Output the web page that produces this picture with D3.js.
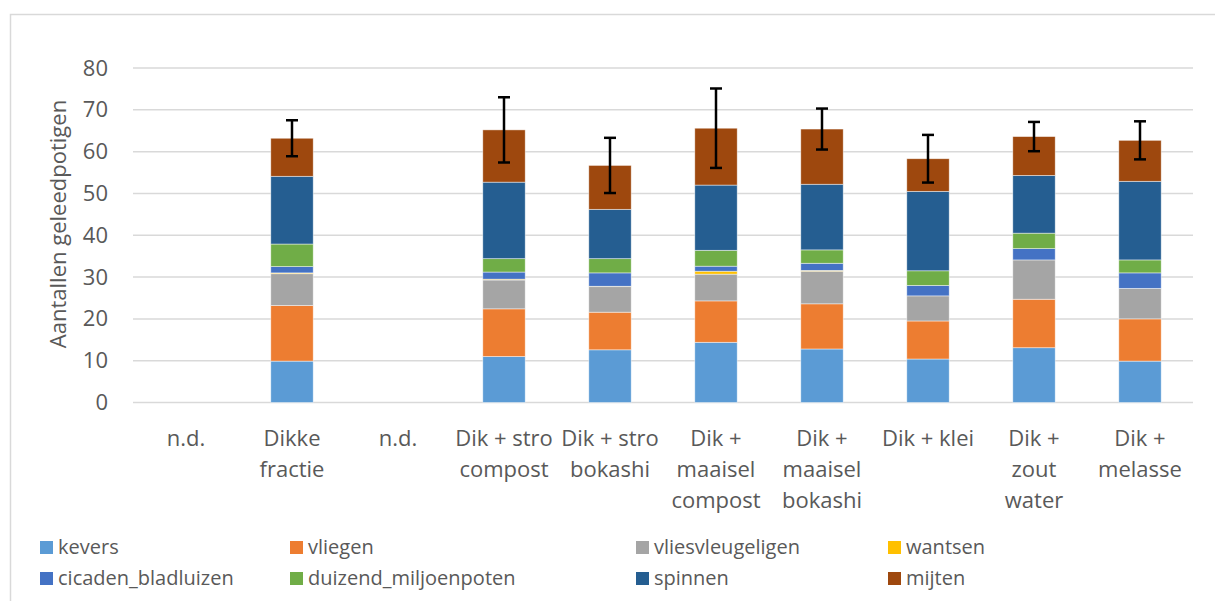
<!DOCTYPE html>
<html>
<head>
<meta charset="utf-8">
<script src="https://cdn.jsdelivr.net/npm/d3@7"></script>
<style>
  body { margin: 0; background: #fff; }
  text { font-family: "Open Sans", "Noto Sans", sans-serif; fill: #595959; }
</style>
</head>
<body>
<script>
// categories, multi-line labels split on |
const categories = ["n.d.", "Dikke|fractie", "n.d.|", "Dik + stro|compost", "Dik + stro|bokashi",
  "Dik +|maaisel|compost", "Dik +|maaisel|bokashi", "Dik + klei", "Dik +|zout|water", "Dik +|melasse"];

const seriesNames = ["kevers", "vliegen", "vliesvleugeligen", "wantsen",
  "cicaden_bladluizen", "duizend_miljoenpoten", "spinnen", "mijten"];
const colors = ["#5b9bd5", "#ed7d31", "#a5a5a5", "#ffc000", "#4472c4", "#70ad47", "#255e91", "#9e480e"];

// values per series (null = n.d.)
const kevers        = [null, 9.9, null, 11.0, 12.6, 14.4, 12.8, 10.4, 13.1, 9.9];
const vliegen       = [null, 13.3, null, 11.4, 9.0, 9.9, 10.8, 9.1, 11.6, 10.1];
const vliesvleug    = [null, 7.6, null, 6.9, 6.1, 6.4, 7.8, 6.0, 9.4, 7.3];
const wantsen       = [null, 0.2, null, 0.2, 0.1, 0.7, 0.2, 0.0, 0.0, 0.0];
const cicaden       = [null, 1.5, null, 1.7, 3.2, 1.2, 1.7, 2.5, 2.7, 3.7];
const duizend       = [null, 5.4, null, 3.2, 3.4, 3.8, 3.2, 3.5, 3.7, 3.1];
const spinnen       = [null, 16.2, null, 18.3, 11.8, 15.6, 15.7, 19.0, 13.8, 18.8];
const mijten        = [null, 9.1, null, 12.5, 10.5, 13.6, 13.2, 7.8, 9.3, 9.8];
const errors        = [null, 4.3, null, 7.8, 6.6, 9.5, 4.9, 5.7, 3.5, 4.55];

const yTicks = [0, 10, 20, 30, 40, 50, 60, 70, 80];

const seriesValues = [kevers, vliegen, vliesvleug, wantsen, cicaden, duizend, spinnen, mijten];

const W = 1215, H = 601;
const margin = {left: 133, right: 22, top: 68, bottom: 198};

const table = categories.map((c, i) => {
  const row = {cat: i};
  seriesNames.forEach((s, j) => row[s] = seriesValues[j][i] || 0);
  row.err = errors[i];
  row.nd = kevers[i] === null;
  return row;
});

const svg = d3.select("body").append("svg").attr("width", W).attr("height", H);

// chart frame
svg.append("rect").attr("x", 10.5).attr("y", 14.5).attr("width", W + 10).attr("height", H)
  .attr("fill", "none").attr("stroke", "#d9d9d9").attr("stroke-width", 1.5);

const x = d3.scaleBand().domain(d3.range(categories.length))
  .range([margin.left, W - margin.right]).paddingInner(0.6).paddingOuter(0.3);
const y = d3.scaleLinear().domain([0, 80]).range([H - margin.bottom - 0.5, margin.top]);

// gridlines
svg.append("g").selectAll("line").data(yTicks).join("line")
  .attr("x1", margin.left).attr("x2", W - margin.right)
  .attr("y1", d => y(d)).attr("y2", d => y(d))
  .attr("stroke", "#d9d9d9").attr("stroke-width", 1.5);

// y axis labels
const yAxis = svg.append("g").attr("transform", `translate(${margin.left - 25},0)`)
  .call(d3.axisLeft(y).tickValues(yTicks).tickSize(0).tickPadding(0));
yAxis.select(".domain").remove();
yAxis.selectAll("text").attr("font-size", 22).attr("fill", "#595959")
  .style("font-family", '"Open Sans", sans-serif');

svg.append("text").attr("transform", `translate(66,224) rotate(-90)`)
  .attr("text-anchor", "middle").attr("font-size", 22).text("Aantallen geleedpotigen");

// stacked bars
const stack = d3.stack().keys(seriesNames);
const stacked = stack(table);

svg.append("g").selectAll("g").data(stacked).join("g")
  .attr("fill", (d, i) => colors[i])
  .selectAll("rect").data(d => d.filter(p => !p.data.nd)).join("rect")
  .attr("x", d => x(d.data.cat))
  .attr("width", x.bandwidth())
  .attr("y", d => y(d[1]))
  .attr("height", d => Math.max(0, y(d[0]) - y(d[1])))
  .attr("stroke", "#fff").attr("stroke-opacity", 0.6).attr("stroke-width", 0.75);

// error bars
const totals = table.map(r => d3.sum(seriesNames, s => r[s]));
const eb = svg.append("g").attr("stroke", "#000").attr("stroke-width", 2.5);
table.filter(r => !r.nd).forEach(r => {
  const cx = x(r.cat) + x.bandwidth() / 2;
  const t = totals[r.cat];
  eb.append("line").attr("x1", cx).attr("x2", cx).attr("y1", y(t + r.err)).attr("y2", y(t - r.err));
  [t + r.err, t - r.err].forEach(v => {
    eb.append("line").attr("x1", cx - 6).attr("x2", cx + 6).attr("y1", y(v)).attr("y2", y(v));
  });
});

// category labels
const lab = svg.append("g").selectAll("text").data(categories).join("text")
  .attr("text-anchor", "middle").attr("font-size", 22)
  .attr("x", (d, i) => x(i) + x.bandwidth() / 2)
  .attr("y", 446);
lab.each(function (d) {
  const t = d3.select(this);
  d.split("|").filter(s => s.length).forEach((s, k) => {
    t.append("tspan").attr("x", t.attr("x")).attr("dy", k === 0 ? 0 : 31).text(s);
  });
});

// legend
const legX = [40, 290, 636, 888];
const legend = svg.append("g").selectAll("g").data(seriesNames).join("g")
  .attr("transform", (d, i) => `translate(${legX[i % 4]},${i < 4 ? 541 : 572})`);
legend.append("rect").attr("width", 13).attr("height", 13).attr("fill", (d, i) => colors[i]);
legend.append("text").attr("x", 18).attr("y", 13).attr("font-size", 20).text(d => d);
</script>
</body>
</html>
